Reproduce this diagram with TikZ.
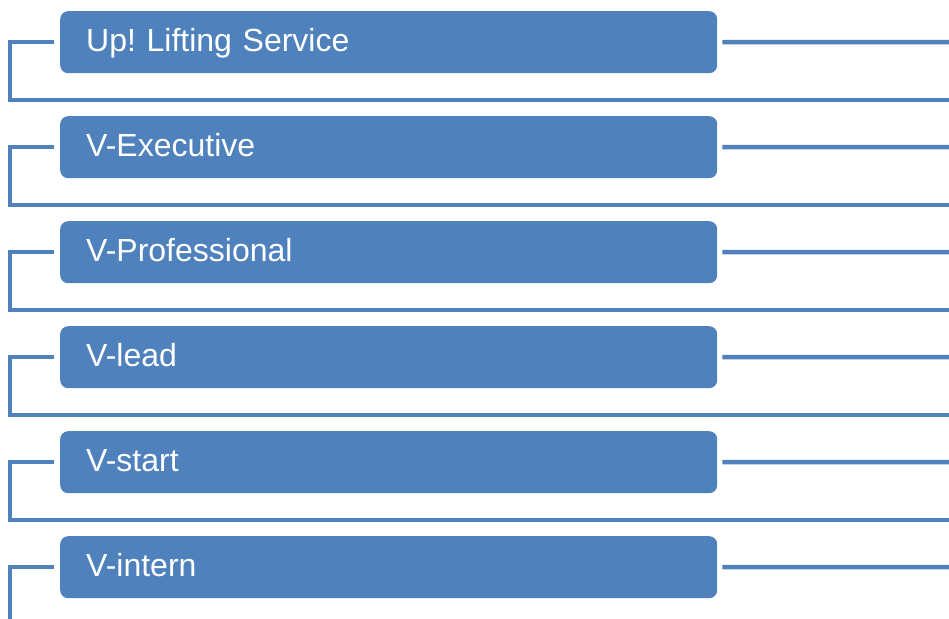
\documentclass[tikz,border=0pt]{standalone}
\usepackage{fontspec}
\setmainfont{Liberation Sans}
\frenchspacing
\definecolor{tierblue}{HTML}{4F81BD}
\begin{document}
\begin{tikzpicture}[x=1pt, y=-1pt,
    tier/.style={fill=tierblue, rounded corners=8pt, anchor=north west,
      minimum width=657pt, minimum height=62pt, inner xsep=26pt,
      text width=605pt, align=left, text height=23pt, text depth=3.6pt,
      text=white, font=\fontsize{32}{38}\selectfont},
    link/.style={draw=tierblue, line width=4.5pt}]
      \useasboundingbox (0,0) rectangle (949,618);

      \foreach \name [count=\i from 0] in {Up! Lifting Service, V-Executive, V-Professional, V-lead, V-start, V-intern}{%
        \node[tier] (box\i) at (60,11+105*\i) {\name};
        \coordinate (out\i) at (952,42+105*\i);
        \draw[link] ([xshift=5pt]box\i.east) -- (out\i);
      }

      \foreach \i in {0,...,4}{%
        \coordinate (bend\i) at (10,100+105*\i);
        \coordinate (end\i) at (952,100+105*\i);
        \draw[link] ([xshift=-6pt]box\i.west) -| (bend\i) -- (end\i);
      }
      \coordinate (foot) at (10,622);
      \draw[link] ([xshift=-6pt]box5.west) -| (foot);

    \end{tikzpicture}
\end{document}
